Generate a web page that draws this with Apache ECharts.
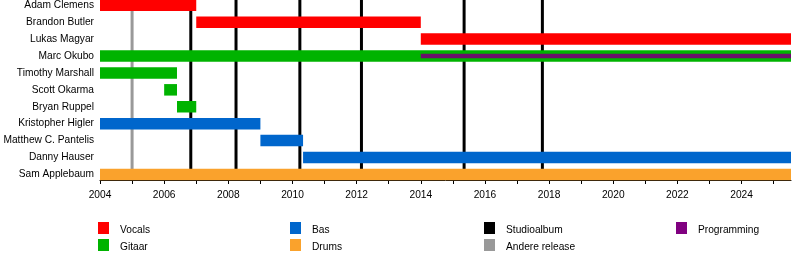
<!DOCTYPE html>
<html>
<head>
<meta charset="utf-8">
<script src="https://cdn.jsdelivr.net/npm/echarts@6/dist/echarts.min.js"></script>
<style>
html,body{margin:0;padding:0;background:#fff;}
#chart{width:800px;height:260px;}
</style>
</head>
<body>
<div id="chart"></div>
<script>
// ---------- DATA ----------
var members = ['Adam Clemens','Brandon Butler','Lukas Magyar','Marc Okubo','Timothy Marshall','Scott Okarma','Bryan Ruppel','Kristopher Higler','Matthew C. Pantelis','Danny Hauser','Sam Applebaum'];
var END = 2025.54;
// [rowIndex, start, end]
var vocals = [[0, 2004, 2007], [1, 2007, 2014], [2, 2014, END]];
var gitaar = [[3, 2004, END], [4, 2004, 2006.4], [5, 2006, 2006.4], [6, 2006.4, 2007]];
var bas = [[7, 2004, 2009], [8, 2009, 2010.33], [9, 2010.33, END]];
var drums = [[10, 2004, END]];
var programming = [[3, 2014, END]];
var studioalbums = [2006.83, 2008.24, 2010.23, 2012.15, 2015.35, 2017.79];
var andereReleases = [2005.0];
var yearTicks = [2004,2005,2006,2007,2008,2009,2010,2011,2012,2013,2014,2015,2016,2017,2018,2019,2020,2021,2022,2023,2024,2025];
var yearLabels = [2004,2006,2008,2010,2012,2014,2016,2018,2020,2022,2024];
var legendNames = ['Vocals','Gitaar','Bas','Drums','Studioalbum','Andere release','Programming'];

// ---------- STYLE ----------
var colors = {
  'Vocals':'#ff0000', 'Gitaar':'#00b300', 'Bas':'#0066cc', 'Drums':'#faa22c',
  'Studioalbum':'#000000', 'Andere release':'#999999', 'Programming':'#800080'
};
var programmingBarColor = '#6a0f6a';
var FONT = '10.2px "Liberation Sans", Arial, sans-serif';
var Y_MIN = -0.31, Y_MAX = 10.33;

function barSeries(name, data, frac, fill) {
  return {
    type:'custom', name:name, data:data, encode:{x:[1,2], y:0},
    renderItem:function(params, api){
      var row = api.value(0);
      var s = api.coord([api.value(1), row]);
      var e = api.coord([api.value(2), row]);
      var bh = Math.abs(api.size([0,1])[1]) * frac;
      return {type:'rect', shape:{x:s[0], y:s[1]-bh/2, width:e[0]-s[0], height:bh},
              style:{fill:fill || colors[name]}};
    }
  };
}
function lineSeries(name, years) {
  return {
    type:'custom', name:name, data:years.map(function(v){return [v, 0];}), encode:{x:0, y:1},
    renderItem:function(params, api){
      var a = api.coord([api.value(0), Y_MIN]);
      var b = api.coord([api.value(0), Y_MAX]);
      return {type:'line', shape:{x1:a[0], y1:a[1], x2:b[0], y2:b[1]},
              style:{stroke:colors[name], lineWidth:3}};
    }
  };
}
var labelSeries = {
  type:'custom', name:'labels', data:members.map(function(n,i){return [2004, i];}), encode:{x:0, y:1},
  renderItem:function(params, api){
    var p = api.coord([api.value(0), api.value(1)]);
    return {type:'text', style:{text:members[params.dataIndex], x:p[0]-6, y:p[1],
            align:'right', verticalAlign:'middle', fill:'#000', font:FONT}};
  }
};

// legend layout
var legendPos = {
  'Vocals':[98,222], 'Gitaar':[98,239], 'Bas':[290,222], 'Drums':[290,239],
  'Studioalbum':[484,222], 'Andere release':[484,239], 'Programming':[676,222]
};
var graphics = [];
legendNames.forEach(function(n){
  var p = legendPos[n];
  graphics.push({type:'rect', left:p[0], top:p[1], shape:{width:11, height:12}, style:{fill:colors[n]}, silent:true});
  graphics.push({type:'text', left:p[0]+22, top:p[1]+3, style:{text:n, fill:'#000', font:FONT}, silent:true});
});

var chart = echarts.init(document.getElementById('chart'), null, {renderer:'canvas'});
chart.setOption({
  animation:false,
  grid:{left:100, right:9, top:0, bottom:80, containLabel:false},
  xAxis:{
    type:'value', min:2004, max:END, interval:1, position:'bottom',
    splitLine:{show:false},
    axisLine:{show:true, onZero:false, lineStyle:{color:'#000', width:1}},
    axisTick:{show:true, length:4, lineStyle:{color:'#000'}, customValues:yearTicks},
    axisLabel:{color:'#000', fontSize:10.2, fontFamily:'"Liberation Sans", Arial, sans-serif', margin:10,
               customValues:yearLabels, formatter:function(v){return String(v);}}
  },
  yAxis:{type:'value', min:Y_MIN, max:Y_MAX, inverse:true, show:false},
  graphic:graphics,
  series:[
    lineSeries('Andere release', andereReleases),
    lineSeries('Studioalbum', studioalbums),
    barSeries('Vocals', vocals, 0.68),
    barSeries('Gitaar', gitaar, 0.68),
    barSeries('Bas', bas, 0.68),
    barSeries('Drums', drums, 0.68),
    barSeries('Programming', programming, 0.27, programmingBarColor),
    labelSeries
  ]
});
</script>
</body>
</html>
